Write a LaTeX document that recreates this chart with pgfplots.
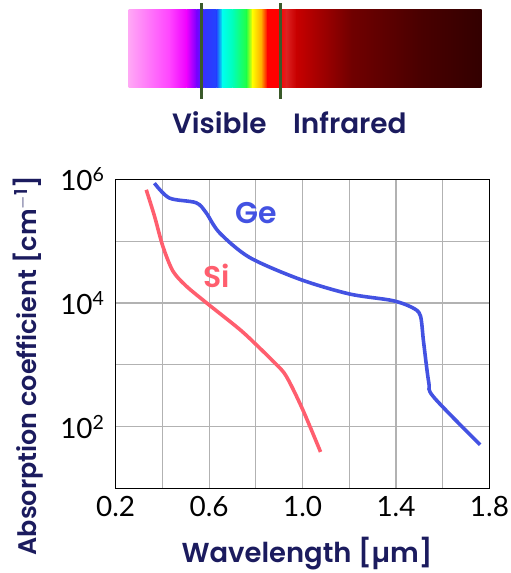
\documentclass[border=0pt]{standalone}
\usepackage{fontspec}
\usepackage{pgfplots}
\pgfplotsset{compat=1.18}
\setmainfont{Poppins}[BoldFont={Poppins SemiBold}]
\newfontfamily\ticks{Lato}
\definecolor{navy}{HTML}{1B1B5E}
\definecolor{geblue}{HTML}{4352E2}
\definecolor{sired}{HTML}{FF5E6E}
\definecolor{bargreen}{HTML}{3A5A2A}
\begin{document}
\begin{tikzpicture}[x=1pt,y=1pt]
\path (0,0) rectangle (512,573);
% spectrum bar (y up: Y = 573 - pixel row)
\def\seg#1#2#3#4{\shade[left color=#3,right color=#4] (#1,485) rectangle (#2,563);}
\definecolor{c1}{HTML}{FFA8F5}\definecolor{c2}{HTML}{FF44FF}
\definecolor{c3}{HTML}{EE00FF}\definecolor{c4}{HTML}{7700FF}
\definecolor{c5}{HTML}{3333FF}\definecolor{c6}{HTML}{2244FF}
\definecolor{c7}{HTML}{00FFEE}\definecolor{c8}{HTML}{00FFBB}
\definecolor{c9}{HTML}{22FF44}\definecolor{c10}{HTML}{FFFF00}
\definecolor{c11}{HTML}{FFAA00}\definecolor{c12}{HTML}{FF0000}
\definecolor{c13}{HTML}{DD2222}\definecolor{c14}{HTML}{C80000}
\definecolor{c15}{HTML}{700000}\definecolor{c16}{HTML}{4A0000}
\definecolor{c17}{HTML}{330000}
\seg{129}{170.3}{c1}{c2}
\seg{170}{187.3}{c2}{c3}
\seg{187}{197.3}{c3}{c4}
\seg{197}{205.3}{c4}{c5}
\seg{205}{217.3}{c5}{c6}
\seg{217}{223.3}{c6}{c7}
\seg{223}{233.3}{c7}{c8}
\seg{233}{247.3}{c8}{c9}
\seg{247}{253.3}{c9}{c10}
\seg{253}{262.3}{c10}{c11}
\seg{262}{268.3}{c11}{c12}
\seg{268}{280.3}{c12}{c12}
\seg{280}{287.3}{c12}{c13}
\seg{287}{297.3}{c13}{c14}
\seg{297}{353.3}{c14}{c15}
\seg{353}{420.3}{c15}{c16}
\seg{420}{483}{c16}{c17}
\draw[bargreen,line width=2.8pt] (202.3,474) -- (202.3,570);
\draw[bargreen,line width=2.8pt] (281.7,474) -- (281.7,570);
\node[navy,font=\fontsize{28}{30}\selectfont\bfseries] at (220,450) {Visible};
\node[navy,font=\fontsize{28}{30}\selectfont\bfseries] at (351,450) {Infrared};
\begin{axis}[
  at={(116pt,83pt)}, anchor=south west,
  width=375pt, height=310pt, scale only axis,
  xmin=0.2, xmax=1.8,
  ymode=log, ymin=10, ymax=1e6,
  xtick={0.2,0.6,1.0,1.4,1.8},
  xticklabels={0.2,0.6,1.0,1.4,1.8},
  minor xtick={0.4,0.8,1.2,1.6},
  ytick={100,10000,1000000},
  yticklabels={10\textsuperscript{2},10\textsuperscript{4},10\textsuperscript{6}},
  minor ytick={10,1000,100000},
  grid=both,
  major grid style={line width=1.2pt,color=black!30},
  minor grid style={line width=1.2pt,color=black!30},
  major tick length=0pt, minor tick length=0pt,
  axis line style={line width=1.5pt,black},
  tick label style={font=\fontsize{28}{30}\selectfont\ticks, inner sep=0pt},
  xticklabel style={yshift=-8pt},
  yticklabel style={xshift=-11pt},
  clip=false,
]
% Ge
\addplot[geblue, line width=3.6pt, smooth, tension=0.5] coordinates {
  (0.366,8.7e5) (0.43,5.0e5) (0.544,4.2e5) (0.587,2.9e5) (0.644,1.38e5)
  (0.772,5.5e4) (0.985,2.45e4) (1.198,1.41e4) (1.383,1.1e4) (1.468,8.5e3)
  (1.504,6.3e3) (1.518,2.34e3) (1.54,525) (1.561,302) (1.76,51)
};
% Si
\addplot[sired, line width=3.6pt, smooth, tension=0.5] coordinates {
  (0.331,6.8e5) (0.366,2.57e5) (0.402,8.3e4) (0.445,3.3e4) (0.501,1.9e4)
  (0.587,1.02e4) (0.729,3.8e3) (0.80,2.15e3) (0.871,1.17e3) (0.928,676)
  (0.999,195) (1.077,39)
};
\end{axis}
\node[geblue,font=\fontsize{30}{32}\selectfont\bfseries] at (257,359) {Ge};
\node[sired,font=\fontsize{30}{32}\selectfont\bfseries] at (217,296) {Si};
\node[navy,rotate=90,font=\fontsize{25.5}{27}\selectfont\bfseries] at (28,206) {Absorption coefficient [cm\textsuperscript{$-$1}]};
\node[navy,font=\fontsize{27.5}{29}\selectfont\bfseries] at (308,18) {Wavelength [µm]};
\end{tikzpicture}
\end{document}
